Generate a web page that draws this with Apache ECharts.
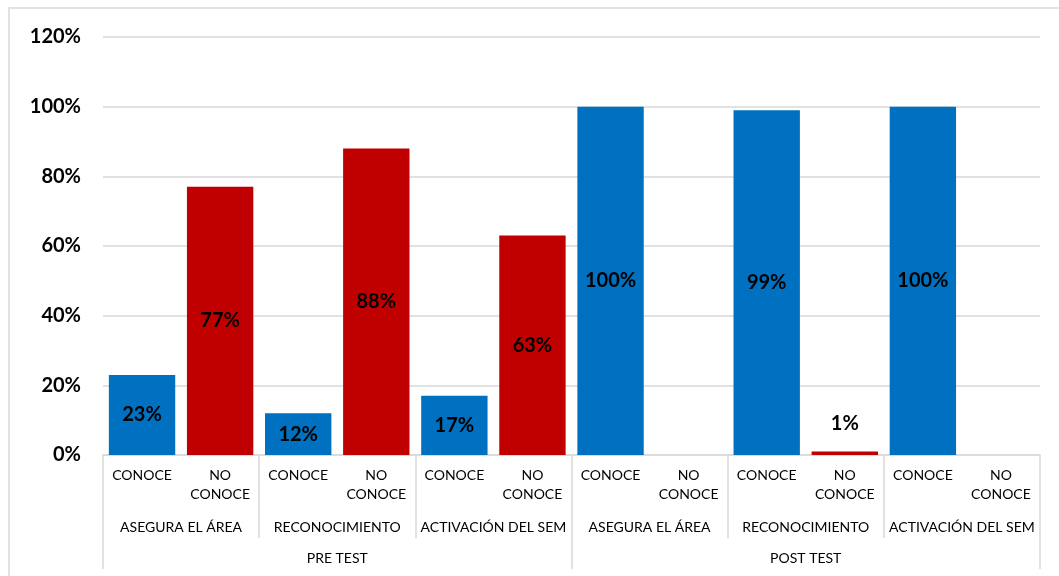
<!DOCTYPE html>
<html>
<head>
<meta charset="utf-8">
<script src="https://cdn.jsdelivr.net/npm/echarts@6/dist/echarts.min.js"></script>
<style>
  html, body { margin: 0; padding: 0; background: #fff; }
  #chart { width: 1059px; height: 576px; }
</style>
</head>
<body>
<div id="chart"></div>
<script>
// Answer per bar (level 1), topic (level 2) and test phase (level 3)
const answers = ['CONOCE', 'NO\nCONOCE', 'CONOCE', 'NO\nCONOCE', 'CONOCE', 'NO\nCONOCE',
                 'CONOCE', 'NO\nCONOCE', 'CONOCE', 'NO\nCONOCE', 'CONOCE', 'NO\nCONOCE'];
const topics = ['ASEGURA EL ÁREA', 'RECONOCIMIENTO', 'ACTIVACIÓN DEL SEM',
                'ASEGURA EL ÁREA', 'RECONOCIMIENTO', 'ACTIVACIÓN DEL SEM'];
const phases = ['PRE TEST', 'POST TEST'];

// Share of respondents per topic (pre test topics first, then post test)
const conoce = [0.23, 0.12, 0.17, 1.00, 0.99, 1.00];
const noConoce = [0.77, 0.88, 0.63, null, 0.01, null];

const yTicks = [0, 0.2, 0.4, 0.6, 0.8, 1.0, 1.2];

const BLUE = '#0070C0';
const RED = '#C00000';
const FONT = 'Lato';

// Spread the per-topic values onto the 12 answer slots
function slotData(values, offset) {
  const out = new Array(answers.length).fill(null);
  values.forEach((v, i) => {
    if (v === null) return;
    const small = v < 0.05;
    out[i * 2 + offset] = {
      value: v,
      label: small ? { position: 'top', distance: 18, fontWeight: 'bold' } : {}
    };
  });
  return out;
}

const pct = v => Math.round(v * 100) + '%';

const chart = echarts.init(document.getElementById('chart'));
chart.setOption({
  backgroundColor: '#ffffff',
  animation: false,
  textStyle: { fontFamily: FONT },
  grid: { left: 103, right: 19, top: 37, bottom: 121, containLabel: false },
  graphic: [{
    type: 'polyline',
    shape: { points: [[9, 576], [9, 8], [1059, 8]] },
    style: { stroke: '#d9d9d9', lineWidth: 1.5, fill: null },
    silent: true
  }],
  yAxis: {
    type: 'value',
    min: yTicks[0],
    max: yTicks[yTicks.length - 1],
    interval: yTicks[1] - yTicks[0],
    axisLine: { show: false },
    axisTick: { show: false },
    splitLine: { lineStyle: { color: '#d9d9d9', width: 1.5 } },
    axisLabel: {
      formatter: pct,
      fontFamily: FONT, fontSize: 20, fontWeight: 'bold', color: '#000',
      margin: 22
    }
  },
  xAxis: [
    {
      type: 'category',
      data: answers,
      position: 'bottom',
      axisLine: { show: true, lineStyle: { color: '#d9d9d9', width: 1.5 } },
      axisTick: { show: false },
      axisLabel: {
        interval: 0, fontFamily: FONT, fontSize: 14, color: '#000',
        lineHeight: 19, margin: 11, align: 'center'
      }
    },
    {
      type: 'category',
      data: topics,
      position: 'bottom',
      gridIndex: 0,
      axisLine: { show: false },
      axisTick: {
        show: true, alignWithLabel: false, inside: false, length: 83,
        lineStyle: { color: '#d9d9d9', width: 1.5 }
      },
      axisLabel: {
        interval: 0, fontFamily: FONT, fontSize: 14, color: '#000',
        lineHeight: 19, margin: 63
      }
    },
    {
      type: 'category',
      data: phases,
      position: 'bottom',
      gridIndex: 0,
      axisLine: { show: false },
      axisTick: {
        show: true, length: 114,
        lineStyle: { color: '#d9d9d9', width: 1.5 }
      },
      axisLabel: {
        interval: 0, fontFamily: FONT, fontSize: 14, color: '#000',
        lineHeight: 19, margin: 94
      }
    }
  ],
  series: [
    {
      name: 'CONOCE',
      type: 'bar',
      stack: 'answers',
      xAxisIndex: 0,
      barCategoryGap: '15%',
      itemStyle: { color: BLUE },
      label: {
        show: true, position: 'inside', formatter: p => pct(p.value),
        fontFamily: FONT, fontSize: 20, fontWeight: 'bold', color: '#000'
      },
      data: slotData(conoce, 0)
    },
    {
      name: 'NO CONOCE',
      type: 'bar',
      stack: 'answers',
      xAxisIndex: 0,
      barCategoryGap: '15%',
      itemStyle: { color: RED },
      label: {
        show: true, position: 'inside', formatter: p => pct(p.value),
        fontFamily: FONT, fontSize: 20, fontWeight: 'bold', color: '#000'
      },
      data: slotData(noConoce, 1)
    }
  ]
});
</script>
</body>
</html>
